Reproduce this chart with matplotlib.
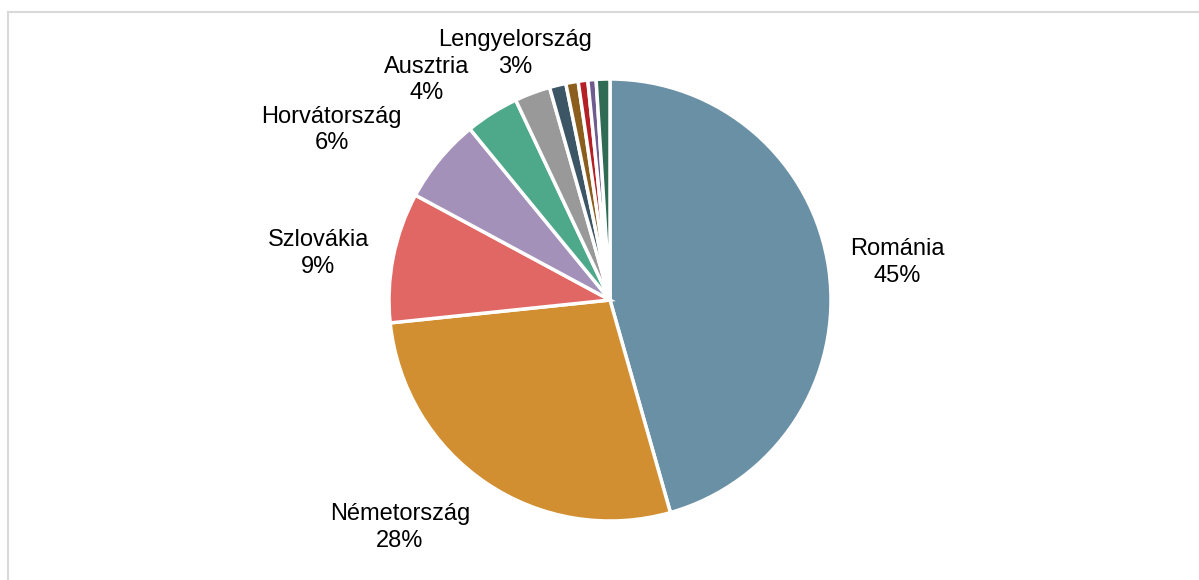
import matplotlib
matplotlib.use("Agg")
import matplotlib.pyplot as plt
from matplotlib.lines import Line2D

plt.rcParams['font.family'] = ['Liberation Sans', 'DejaVu Sans']

countries = ["Románia", "Németország", "Szlovákia", "Horvátország", "Ausztria",
             "Lengyelország", "", "", "", "", ""]
shares = [45.5, 27.7, 9.5, 6.2, 3.9, 2.6, 1.2, 0.9, 0.7, 0.6, 1.0]
pct_labels = ["45%", "28%", "9%", "6%", "4%", "3%", "", "", "", "", ""]
colors = ["#6A90A5", "#D18F32", "#E16764", "#A391BA", "#4EA88A", "#999999",
          "#3D5666", "#8B5E1E", "#B42025", "#6F5C8F", "#2F6B55"]

# label positions relative to pie centre, in pie-radius units
label_pos = [(1.30, 0.17), (-0.95, -1.03), (-1.32, 0.21), (-1.26, 0.77),
             (-0.83, 0.995), (-0.43, 1.115)]

W, H = 1199, 580
cx, cy, R = 610, 300, 221

fig = plt.figure(figsize=(W / 100, H / 100), dpi=100)
ax = fig.add_axes([0, 0, 1, 1])

ax.pie(shares, colors=colors, startangle=90, counterclock=False, radius=1.0,
       wedgeprops=dict(edgecolor='white', linewidth=2.5))
ax.set_aspect('auto')
ax.set_xlim(-cx / R, (W - cx) / R)
ax.set_ylim(-(H - cy) / R, cy / R)
ax.axis('off')

for name, pct, (x, y) in zip(countries, pct_labels, label_pos):
    ax.text(x, y, f"{name}\n{pct}", ha='center', va='center', fontsize=17,
            color='#000000', linespacing=1.27)

# frame lines
fig.add_artist(Line2D([8 / W, 1], [1 - 12 / H, 1 - 12 / H], color='#d9d9d9', lw=1.5,
                      transform=fig.transFigure))
fig.add_artist(Line2D([8 / W, 8 / W], [0, 1 - 12 / H], color='#d9d9d9', lw=1.5,
                      transform=fig.transFigure))

fig.savefig("out.png", dpi=100, facecolor='white')
